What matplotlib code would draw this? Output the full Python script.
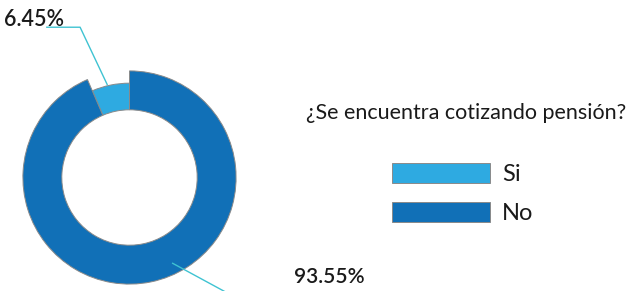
import matplotlib
matplotlib.use("Agg")
import matplotlib.pyplot as plt

categories = ["Si", "No"]
values = [6.45, 93.55]
labels = ["6.45%", "93.55%"]
colors = ["#2eaae1", "#1170b7"]
title = "¿Se encuentra cotizando pensión?"

W, H = 627, 291
fig = plt.figure(figsize=(W / 100, H / 100), dpi=100)
plt.rcParams['font.family'] = ['Lato', 'DejaVu Sans']

# pie axes: centre at (129.5,177.5) px, radius 102.5 px
R = 102.5
cx, cy = 129.5, 177.5
half = 1.3
size = 2 * half * R
ax = fig.add_axes([(cx - half * R) / W, (H - cy - half * R) / H, size / W, size / H])
ax.set_xlim(-half, half)
ax.set_ylim(-half, half)
ax.set_aspect('equal')
ax.axis('off')

wedges, _ = ax.pie(values, colors=colors, startangle=90, counterclock=True,
                   radius=1.0,
                   wedgeprops=dict(width=0.365, edgecolor="#8a8a8a", linewidth=0.7))
# the small slice is drawn thinner
wedges[0].set_radius(0.885)
wedges[0].set_width(0.885 - 0.635)

def d(px, py):
    return (px - cx) / R, (cy - py) / R

line_col = "#3fc3d2"
p = [d(50, 33), d(82, 33), d(108, 88)]
ax.plot([q[0] for q in p], [q[1] for q in p], color=line_col, lw=1.0, clip_on=False)
p = [d(171, 260), d(230, 292), d(290, 292)]
ax.plot([q[0] for q in p], [q[1] for q in p], color=line_col, lw=1.0, clip_on=False)

x, y = d(38, 32)
ax.text(x, y, labels[0], ha='center', va='baseline', fontsize=15.5, color="#1a1a1a",
        fontweight='semibold', clip_on=False)
x, y = d(288, 279)
ax.text(x, y, labels[1], ha='left', va='baseline', fontsize=15, color="#1a1a1a",
        fontweight='semibold', clip_on=False)

fig.text(466 / W, 1 - 113 / H, title, ha='center', va='center', fontsize=15.5, color="#1a1a1a")

leg = fig.legend(wedges, categories, loc='upper left',
                 bbox_to_anchor=(392 / W, 1 - 163 / H),
                 frameon=False, fontsize=17, borderpad=0, borderaxespad=0,
                 handlelength=98 / 23.6, handleheight=22 / 23.6,
                 handletextpad=0.5, labelspacing=0.7)
for t in leg.get_texts():
    t.set_color("#1a1a1a")

fig.savefig("out.png", dpi=100)
